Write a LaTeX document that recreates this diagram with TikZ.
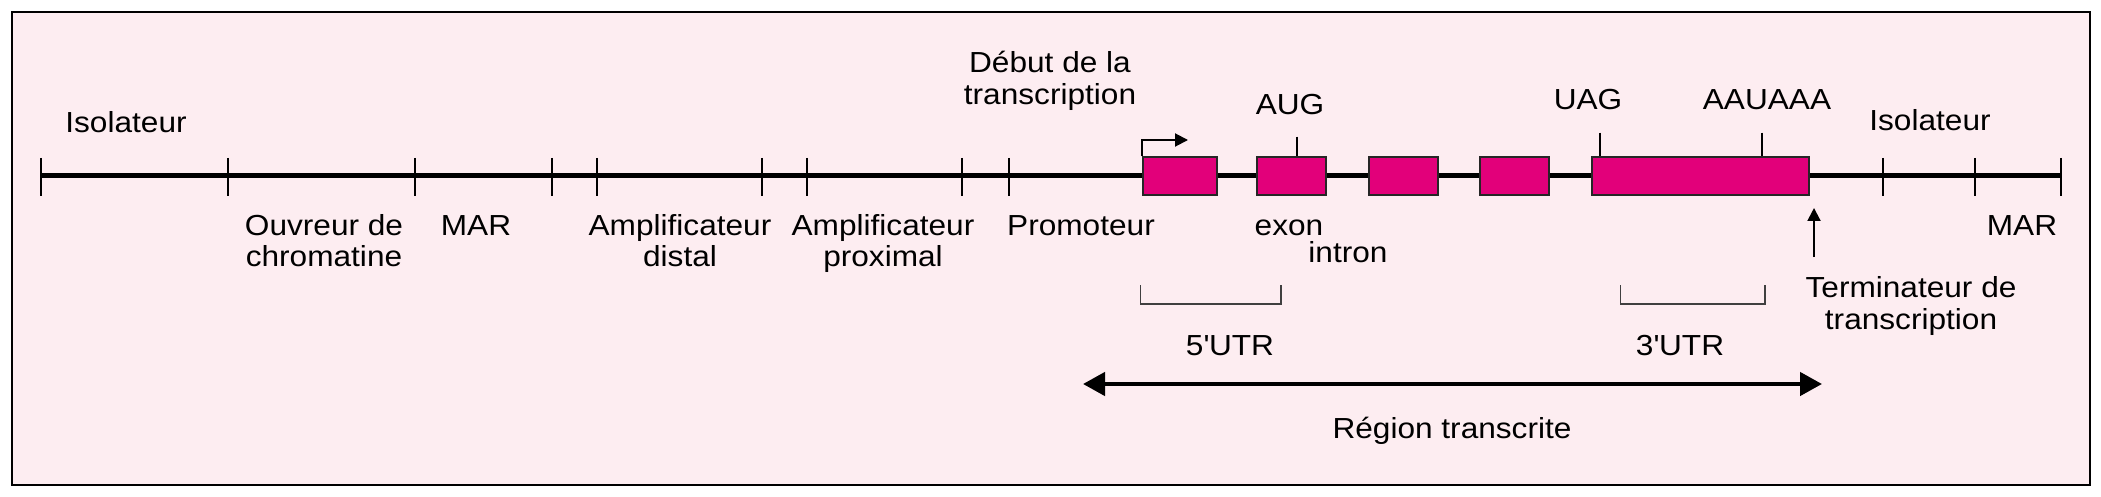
\documentclass[tikz,border=0pt]{standalone}
\usepackage{fontspec}
\setmainfont{Liberation Sans}[FakeStretch=1.09]
\usetikzlibrary{arrows.meta}
\definecolor{bgpink}{RGB}{253,237,241}
\definecolor{exonmag}{RGB}{226,0,122}
\newcommand{\twol}[2]{\begin{tabular}[t]{@{}c@{}}#1\\#2\end{tabular}}
\begin{document}
\begin{tikzpicture}[x=1pt,y=-1pt,
  lbl/.style={anchor=base, inner sep=0pt, font=\fontsize{29}{32}\selectfont},
  dna/.style={line width=5pt},
  tickmark/.style={line width=2pt},
  exonbox/.style={draw=black!85, line width=2pt, fill=exonmag, minimum height=37.5pt, inner sep=0pt, anchor=south west},
  bracket/.style={draw=black!75, line width=1.3pt},
  thinarrow/.style={line width=2pt, -{Triangle[length=13pt,width=13pt]}},
  bigarrow/.style={line width=4.5pt, {Triangle[length=22pt,width=23pt]}-{Triangle[length=22pt,width=23pt]}}
]
\useasboundingbox (0,0) rectangle (2101,497);
\draw[fill=bgpink, line width=2.5pt] (12,12) rectangle (2090,485);

% DNA line
\coordinate (L0) at (41,176);
\coordinate (L1) at (2061,176);
\draw[dna] (L0) -- (L1);
\foreach \x in {41,228,415,552,597,761.5,807,962,1008.5,1883,1975,2061}
  \draw[tickmark] (\x,158) -- (\x,196);

% exons
\node[exonbox, minimum width=74pt]  (e1) at (1142,196) {};
\node[exonbox, minimum width=68.5pt] (e2) at (1256,196) {};
\node[exonbox, minimum width=69pt]  (e3) at (1368,196) {};
\node[exonbox, minimum width=69pt]  (e4) at (1479,196) {};
\node[exonbox, minimum width=217pt] (e5) at (1591,196) {};

% start of transcription arrow
\coordinate (tss) at (1188,140);
\draw[thinarrow] (e1.north west) |- (tss);

% codon marks
\coordinate (aug) at (1297,136.7);
\coordinate (uag) at (1600,132.7);
\coordinate (pas) at (1762,132.7);
\draw[tickmark] (aug) -- (aug |- e2.north);
\draw[tickmark] (uag) -- (uag |- e5.north);
\draw[tickmark] (pas) -- (pas |- e5.north);

% terminator arrow
\coordinate (termA) at (1814,257);
\coordinate (termB) at (1814,208);
\draw[thinarrow] (termA) -- (termB);

% UTR brackets
\draw[bracket] (1140.5,285) -- (1140.5,304) -- (1281,304) -- (1281,285);
\draw[bracket] (1620.5,285) -- (1620.5,304) -- (1765,304) -- (1765,285);

% transcribed region
\coordinate (rA) at (1083,384);
\coordinate (rB) at (1822,384);
\draw[bigarrow] (rA) -- (rB);

% labels
\node[lbl] (isoL) at (126,132.7) {Isolateur};
\node[lbl] (ouv) at (324,235) {\twol{Ouvreur de}{chromatine}};
\node[lbl] (marL) at (476,235) {MAR};
\node[lbl] (ampD) at (680,235) {\twol{Amplificateur}{distal}};
\node[lbl] (ampP) at (883,235) {\twol{Amplificateur}{proximal}};
\node[lbl] (prom) at (1081,235) {Promoteur};
\node[lbl] (exon) at (1289,235) {exon};
\node[lbl] (intron) at (1348,262) {intron};
\node[lbl] (deb) at (1050,73) {\twol{Début de la}{transcription}};
\node[lbl] (augL) at (1290,115) {AUG};
\node[lbl] (uagL) at (1588,110) {UAG};
\node[lbl] (pasL) at (1767,110) {AAUAAA};
\node[lbl] (isoR) at (1930,131) {Isolateur};
\node[lbl] (marR) at (2022,235) {MAR};
\node[lbl] (term) at (1911,297) {\twol{Terminateur de}{transcription}};
\node[lbl] (utr5) at (1230,355) {5\textquotesingle UTR};
\node[lbl] (utr3) at (1680,355) {3\textquotesingle UTR};
\node[lbl] (reg) at (1452,438) {Région transcrite};
\end{tikzpicture}
\end{document}
